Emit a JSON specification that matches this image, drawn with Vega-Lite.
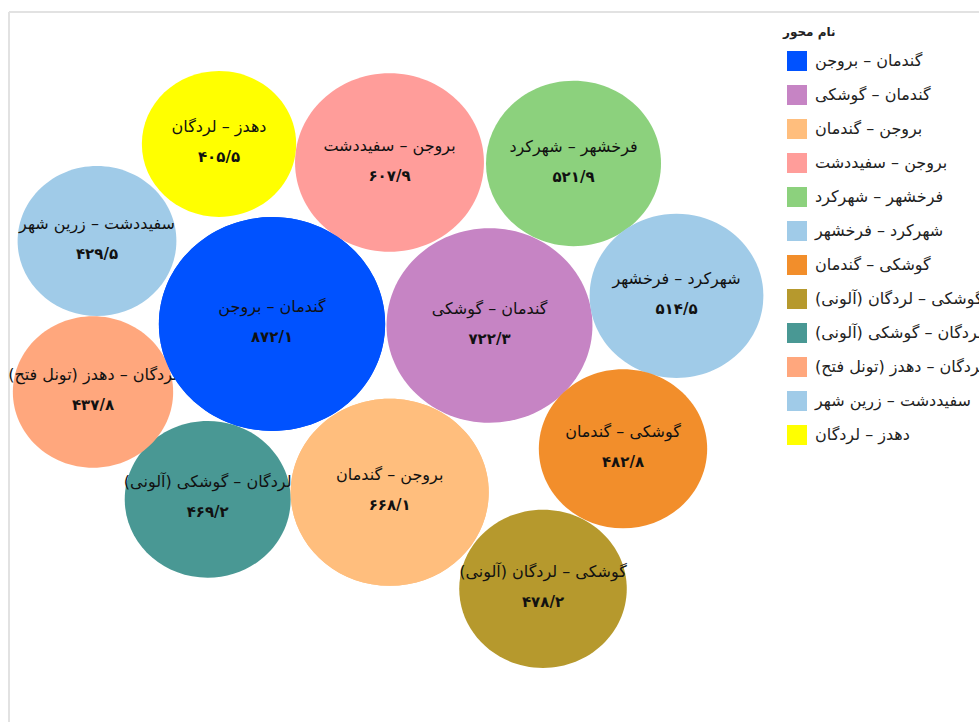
{
  "$schema": "https://vega.github.io/schema/vega-lite/v6.json",
  "autosize": {"type": "none"},
  "padding": {"left": 9, "top": 12, "right": 0, "bottom": 0},
  "width": 970,
  "height": 710,
  "background": "white",
  "config": {
    "view": {"stroke": "#e2e2e2", "strokeWidth": 2, "strokeDash": [970, 1680, 710, 0]},
    "font": "DejaVu Sans"
  },
  "data": {
    "values": [
      {"name": "گندمان – بروجن", "value": 872.1, "label": "۸۷۲/۱", "x": 263, "y": 312},
      {"name": "گندمان – گوشکی", "value": 722.3, "label": "۷۲۲/۳", "x": 480.5, "y": 313.5},
      {"name": "بروجن – گندمان", "value": 668.1, "label": "۶۶۸/۱", "x": 380.7, "y": 480.3},
      {"name": "بروجن – سفیددشت", "value": 607.9, "label": "۶۰۷/۹", "x": 380.5, "y": 150.5},
      {"name": "فرخشهر – شهرکرد", "value": 521.9, "label": "۵۲۱/۹", "x": 564.5, "y": 151.5},
      {"name": "شهرکرد – فرخشهر", "value": 514.5, "label": "۵۱۴/۵", "x": 667.5, "y": 283.8},
      {"name": "گوشکی – گندمان", "value": 482.8, "label": "۴۸۲/۸", "x": 614, "y": 436.8},
      {"name": "گوشکی – لردگان (آلونی)", "value": 478.2, "label": "۴۷۸/۲", "x": 534, "y": 576.8},
      {"name": "لردگان – گوشکی (آلونی)", "value": 469.2, "label": "۴۶۹/۲", "x": 198.7, "y": 487.3},
      {"name": "لردگان – دهدز (تونل فتح)", "value": 437.8, "label": "۴۳۷/۸", "x": 84, "y": 380},
      {"name": "سفیددشت – زرین شهر", "value": 429.5, "label": "۴۲۹/۵", "x": 88, "y": 229},
      {"name": "دهدز – لردگان", "value": 405.5, "label": "۴۰۵/۵", "x": 210, "y": 132}
    ]
  },
  "encoding": {
    "x": {"field": "x", "type": "quantitative", "scale": {"domain": [0, 970], "nice": false, "zero": false}, "axis": null},
    "y": {"field": "y", "type": "quantitative", "scale": {"domain": [0, 710], "nice": false, "zero": false, "reverse": true}, "axis": null}
  },
  "layer": [
    {
      "mark": {
        "type": "point",
        "filled": true,
        "opacity": 1,
        "strokeWidth": 0,
        "shape": "M1,0 C1,0.522 0.552,0.945 0,0.945 C-0.552,0.945 -1,0.522 -1,0 C-1,-0.522 -0.552,-0.945 0,-0.945 C0.552,-0.945 1,-0.522 1,0 Z"
      },
      "encoding": {
        "size": {"field": "value", "type": "quantitative", "scale": {"type": "linear", "domain": [0, 1000], "range": [0, 58700], "zero": true}, "legend": null},
        "color": {
          "field": "name",
          "type": "nominal",
          "scale": {
            "domain": ["گندمان – بروجن", "گندمان – گوشکی", "بروجن – گندمان", "بروجن – سفیددشت", "فرخشهر – شهرکرد", "شهرکرد – فرخشهر", "گوشکی – گندمان", "گوشکی – لردگان (آلونی)", "لردگان – گوشکی (آلونی)", "لردگان – دهدز (تونل فتح)", "سفیددشت – زرین شهر", "دهدز – لردگان"],
            "range": ["#0052ff", "#c684c4", "#ffbe7d", "#ff9d9a", "#8cd17d", "#a0cbe8", "#f28e2b", "#b6992d", "#499894", "#ffa77d", "#a0cbe8", "#ffff00"]
          },
          "legend": {
            "title": "نام محور",
            "orient": "none",
            "legendX": 774,
            "legendY": 15,
            "padding": 0,
            "titleFontSize": 12,
            "titleFontWeight": "bold",
            "titleColor": "#222",
            "titlePadding": 12,
            "labelFontSize": 16,
            "labelColor": "#222",
            "labelLimit": 0,
            "labelOffset": 8,
            "symbolType": "square",
            "symbolSize": 400,
            "symbolStrokeWidth": 0,
            "symbolOpacity": 1,
            "symbolOffset": 4,
            "rowPadding": 14
          }
        }
      }
    },
    {
      "transform": [{"filter": "datum.name === 'لردگان – دهدز (تونل فتح)' || datum.name === 'لردگان – گوشکی (آلونی)'"}],
      "mark": {"type": "text", "dy": -17, "fontSize": 16, "color": "#111"},
      "encoding": {"text": {"field": "name"}}
    },
    {
      "transform": [{"filter": "datum.name === 'لردگان – دهدز (تونل فتح)' || datum.name === 'لردگان – گوشکی (آلونی)'"}],
      "mark": {"type": "text", "dy": 13, "fontSize": 15, "fontWeight": "bold", "color": "#111"},
      "encoding": {"text": {"field": "label"}}
    },
    {
      "transform": [{"filter": "datum.name === 'گندمان – بروجن' || datum.name === 'بروجن – گندمان'"}],
      "mark": {
        "type": "point",
        "filled": true,
        "opacity": 1,
        "strokeWidth": 0,
        "shape": "M1,0 C1,0.522 0.552,0.945 0,0.945 C-0.552,0.945 -1,0.522 -1,0 C-1,-0.522 -0.552,-0.945 0,-0.945 C0.552,-0.945 1,-0.522 1,0 Z"
      },
      "encoding": {
        "size": {"field": "value", "type": "quantitative", "scale": {"type": "linear", "domain": [0, 1000], "range": [0, 58700], "zero": true}, "legend": null},
        "color": {"field": "name", "type": "nominal"}
      }
    },
    {
      "transform": [{"filter": "datum.name !== 'لردگان – دهدز (تونل فتح)' && datum.name !== 'لردگان – گوشکی (آلونی)'"}],
      "mark": {"type": "text", "dy": -17, "fontSize": 16, "color": "#111"},
      "encoding": {"text": {"field": "name"}}
    },
    {
      "transform": [{"filter": "datum.name !== 'لردگان – دهدز (تونل فتح)' && datum.name !== 'لردگان – گوشکی (آلونی)'"}],
      "mark": {"type": "text", "dy": 13, "fontSize": 15, "fontWeight": "bold", "color": "#111"},
      "encoding": {"text": {"field": "label"}}
    }
  ]
}
